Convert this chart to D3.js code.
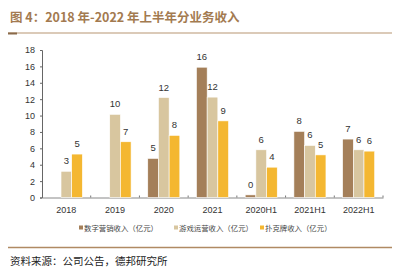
<!DOCTYPE html>
<meta charset="utf-8">
<style>
  body { margin: 0; background: #fff; }
  text { font-family: "Liberation Sans", Arial, "Noto Sans CJK SC", sans-serif; }
  .cjk { font-family: "Noto Sans CJK SC", sans-serif; }
</style>
<script src="https://d3js.org/d3.v7.min.js"></script>
<div id="chart"></div>
<script>
// categories and series
var categories = ["2018", "2019", "2020", "2021", "2020H1", "2021H1", "2022H1"];
var seriesNames = ["数字营销收入（亿元）", "游戏运营收入（亿元）", "扑克牌收入（亿元）"];
var digital = [null, null, 4.77, 15.9, 0.32, 8.07, 7.13];
var game = [3.2, 10.15, 12.2, 12.25, 5.82, 6.35, 5.82];
var poker = [5.3, 6.8, 7.58, 9.35, 3.7, 5.2, 5.66];
var yTicks = [0, 2, 4, 6, 8, 10, 12, 14, 16, 18];
var colors = ["#a47f59", "#d8c69f", "#f4b731"];

var W = 400, H = 276;
var svg = d3.select("#chart").append("svg")
  .attr("width", W).attr("height", H);

// title
svg.append("text")
  .attr("class", "cjk")
  .attr("x", 10).attr("y", 22)
  .attr("fill", "#a37a50")
  .style("font-size", "12.5px")
  .style("font-weight", "bold")
  .text("图 4：2018 年-2022 年上半年分业务收入");

svg.append("line")
  .attr("x1", 8).attr("x2", 392).attr("y1", 33).attr("y2", 33)
  .attr("stroke", "#b89572").attr("stroke-width", 1.2);
svg.append("line")
  .attr("x1", 8).attr("x2", 17).attr("y1", 33.5).attr("y2", 33.5)
  .attr("stroke", "#8a6a4a").attr("stroke-width", 2);

// scales
var x0 = d3.scaleBand().domain(categories).range([42, 383]);
var x1 = d3.scaleBand().domain([0, 1, 2]).range([0, x0.bandwidth()]).paddingOuter(0.78);
var y = d3.scaleLinear().domain([0, 18]).range([197.5, 50]);

// y axis
var yAxis = svg.append("g")
  .attr("transform", "translate(42,0)")
  .call(d3.axisLeft(y).tickValues(yTicks).tickSize(2).tickPadding(5));
yAxis.select(".domain").attr("stroke", "#666");
yAxis.selectAll(".tick line").attr("stroke", "#666");
yAxis.selectAll(".tick text").attr("fill", "#333").style("font-size", "9px");

// x axis
var xAxis = svg.append("g")
  .attr("transform", "translate(0,197.5)")
  .call(d3.axisBottom(x0).tickSize(0).tickPadding(9));
xAxis.select(".domain").attr("stroke", "#888");
xAxis.selectAll(".tick text").attr("fill", "#333").style("font-size", "9px");
// small separators between categories
svg.append("g").selectAll("line")
  .data(categories)
  .enter().append("line")
    .attr("x1", function (d) { return x0(d) + x0.bandwidth(); })
    .attr("x2", function (d) { return x0(d) + x0.bandwidth(); })
    .attr("y1", 197.5).attr("y2", 195.5)
    .attr("stroke", "#777");

// bars
var series = [digital, game, poker];
var rows = [];
series.forEach(function (vals, s) {
  vals.forEach(function (v, i) {
    if (v !== null) rows.push({ cat: categories[i], s: s, v: v });
  });
});

svg.append("g").selectAll("rect")
  .data(rows)
  .enter().append("rect")
    .attr("x", function (d) { return x0(d.cat) + x1(d.s); })
    .attr("y", function (d) { return y(d.v); })
    .attr("width", x1.bandwidth())
    .attr("height", function (d) { return y(0) - y(d.v); })
    .attr("fill", function (d) { return colors[d.s]; })
    .attr("stroke", "#fff")
    .attr("stroke-width", 0.6);

svg.append("g").selectAll("text")
  .data(rows)
  .enter().append("text")
    .attr("x", function (d) { return x0(d.cat) + x1(d.s) + x1.bandwidth() / 2; })
    .attr("y", function (d) { return y(d.v) - 7; })
    .attr("text-anchor", "middle")
    .attr("fill", "#333")
    .style("font-size", "9.5px")
    .text(function (d) { return Math.round(d.v); });

// legend
var legendX = [79, 174, 260];
var legend = svg.append("g").selectAll("g")
  .data(seriesNames)
  .enter().append("g")
    .attr("transform", function (d, i) { return "translate(" + legendX[i] + ",228)"; });
legend.append("rect")
  .attr("x", 0).attr("y", -2.5).attr("width", 4).attr("height", 4)
  .attr("fill", function (d, i) { return colors[i]; });
legend.append("text")
  .attr("class", "cjk")
  .attr("x", 5).attr("y", 2.5)
  .attr("fill", "#444")
  .style("font-size", "7.4px")
  .text(function (d) { return d; });

// footer
svg.append("line")
  .attr("x1", 8).attr("x2", 392).attr("y1", 247.5).attr("y2", 247.5)
  .attr("stroke", "#b08a63").attr("stroke-width", 1.5);

svg.append("text")
  .attr("class", "cjk")
  .attr("x", 10).attr("y", 265)
  .attr("fill", "#222")
  .style("font-size", "10.5px")
  .text("资料来源：公司公告，德邦研究所");
</script>
